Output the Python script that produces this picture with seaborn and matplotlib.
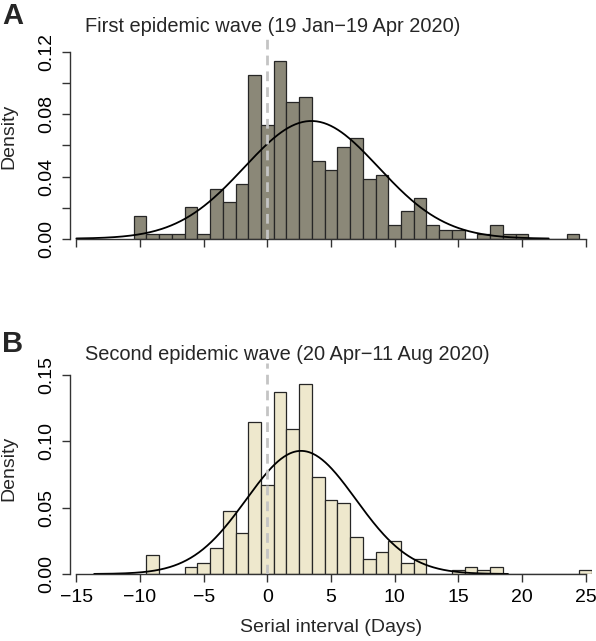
import numpy as np
import seaborn as sns
import matplotlib.pyplot as plt

# serial interval (days) and number of case pairs
days_a = list(range(-10, 25))
counts_a = [5, 1, 1, 1, 7, 1, 11, 8, 12, 36, 25, 39, 30, 31, 17, 15, 20, 22, 13, 14,
            3, 6, 9, 3, 2, 2, 0, 1, 3, 1, 1, 0, 0, 0, 1]
days_b = list(range(-9, 26))
counts_b = [5, 0, 0, 2, 3, 7, 17, 11, 41, 24, 49, 39, 51, 26, 20, 19, 10, 4, 6, 9,
            3, 4, 0, 0, 1, 2, 1, 2, 0, 0, 0, 0, 0, 0, 1]

# fitted normal curves (mean, sd, drawn range)
fit_a = (3.46, 5.27, -15.0, 22.1)
fit_b = (2.65, 4.30, -13.6, 18.9)

titles = ['First epidemic wave (19 Jan\u221219 Apr 2020)',
          'Second epidemic wave (20 Apr\u221211 Aug 2020)']
letters = ['A', 'B']
colors = ['#8B8878', '#EEE8CD']
yticks_a = [0, 0.02, 0.04, 0.06, 0.08, 0.10, 0.12]
ylabels_a = ['0.00', '', '0.04', '', '0.08', '', '0.12']
yticks_b = [0, 0.05, 0.10, 0.15]
ylabels_b = ['0.00', '0.05', '0.10', '0.15']
xticks = [-15, -10, -5, 0, 5, 10, 15, 20, 25]

sns.set_style('ticks')
plt.rcParams['font.family'] = ['Liberation Sans', 'DejaVu Sans']
plt.rcParams['axes.unicode_minus'] = True

W, H = 596, 641
fig = plt.figure(figsize=(W / 100, H / 100), dpi=100)

# axes boxes in pixels: left, top, right, bottom
boxes = [(70, 35, 592, 238.7), (70, 363, 592, 574)]
ylims = [0.131, 0.159]
title_y = [32, 360]
letter_y = [24, 352]

panels = [(days_a, counts_a, fit_a, yticks_a, ylabels_a),
          (days_b, counts_b, fit_b, yticks_b, ylabels_b)]

for i, (days, counts, fit, yt, yl) in enumerate(panels):
    l, t, r, b = boxes[i]
    ax = fig.add_axes([l / W, 1 - b / H, (r - l) / W, (b - t) / H])
    sns.histplot(x=days, weights=counts, discrete=True, stat='density',
                 color=colors[i], edgecolor='#262626', linewidth=0.9, alpha=1, ax=ax)
    mu, sd, lo, hi = fit
    xs = np.linspace(lo, hi, 400)
    ys = np.exp(-0.5 * ((xs - mu) / sd) ** 2) / (sd * np.sqrt(2 * np.pi))
    sns.lineplot(x=xs, y=ys, color='black', linewidth=1.3, ax=ax)
    ax.axvline(0, color='#c4c4c4', linewidth=2.0, linestyle=(0, (3.5, 2.2)), zorder=5)

    ax.set_xlim(-15.5, 25.5)
    ax.set_ylim(0, ylims[i])
    ax.set_xticks(xticks)
    ax.set_yticks(yt)
    ax.set_yticklabels(yl, rotation=90, va='center')
    sns.despine(ax=ax)
    ax.spines['left'].set_bounds(yt[0], yt[-1])
    ax.spines['bottom'].set_bounds(-15, 25)
    for s in ['left', 'bottom']:
        ax.spines[s].set_color('#333333')
        ax.spines[s].set_linewidth(1.0)
    ax.tick_params(direction='out', length=5.5, width=1.0, color='#333333',
                   labelsize=14, pad=5, labelcolor='black')
    ax.set_ylabel('Density', fontsize=14)
    ax.yaxis.set_label_coords(-0.10, 0.5)
    if i == 0:
        ax.set_xticklabels([])
        ax.set_xlabel('')
    else:
        ax.set_xlabel('Serial interval (Days)', fontsize=14, labelpad=10)

    fig.text(85 / W, 1 - title_y[i] / H, titles[i], fontsize=14.4, va='baseline', ha='left')
    # panel letter, baseline just above the title line
    fig.text(2 / W, 1 - letter_y[i] / H, letters[i], fontsize=21, fontweight='bold',
             va='baseline', ha='left')

fig.savefig('out.png', dpi=100)
